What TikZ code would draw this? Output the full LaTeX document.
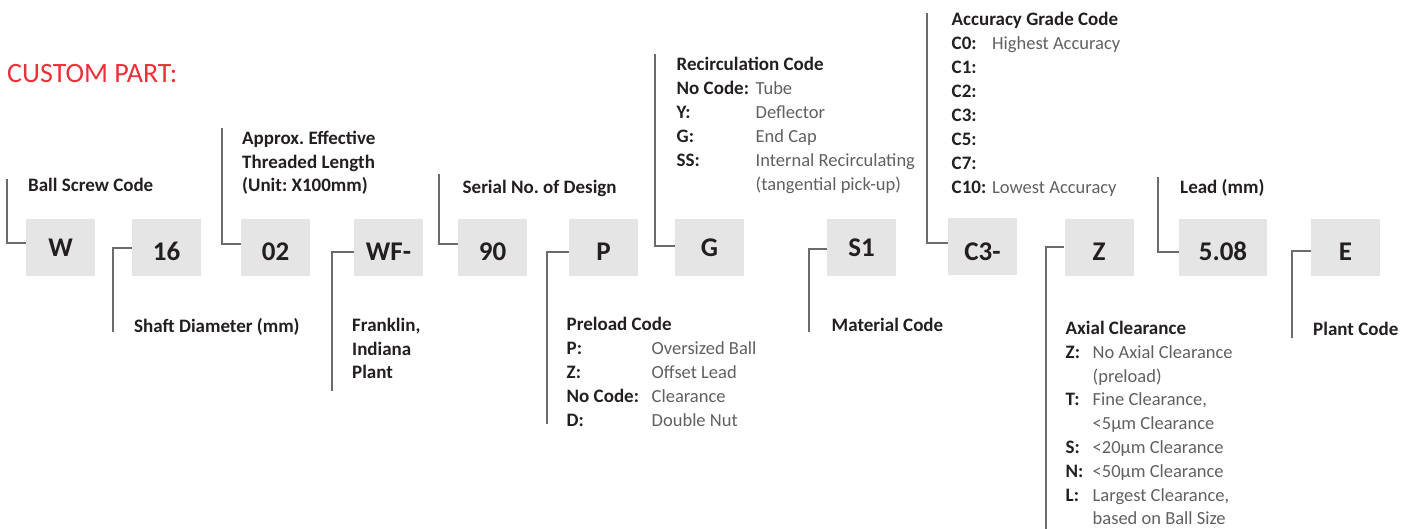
\documentclass[tikz,border=0pt]{standalone}
\usepackage{fontspec}
\setmainfont{Carlito}
\frenchspacing
\definecolor{boxgray}{HTML}{E5E5E5}
\definecolor{linegray}{HTML}{6B6B6B}
\definecolor{darktext}{HTML}{231F20}
\definecolor{lighttext}{HTML}{606060}
\definecolor{titlered}{HTML}{E8323A}
\tikzset{
  codebox/.style={fill=boxgray, minimum width=69pt, minimum height=57pt, inner sep=0pt, text height=26pt, text depth=0pt, text=darktext, font=\fontsize{27}{27}\selectfont\bfseries},
  highcode/.style={text height=18pt},
  lbl/.style={anchor=base west, inner sep=0pt, text=darktext, font=\fontsize{19}{24}\selectfont\bfseries},
  val/.style={anchor=base west, inner sep=0pt, text=lighttext, font=\fontsize{18.5}{24}\selectfont},
  conn/.style={draw=linegray, line width=2pt},
}
\begin{document}
\begin{tikzpicture}[x=1pt,y=-1pt]
\useasboundingbox (0,0) rectangle (1418,529);

\node[anchor=base west, inner sep=0pt, text=titlered, font=\fontsize{28}{28}\selectfont] (title) at (7,83) {CUSTOM PART:};

% code boxes
\node[codebox, highcode] (bW) at (60.5,247.5) {W};
\node[codebox] (b16) at (166.5,247.5) {16};
\node[codebox] (b02) at (275.5,247.5) {02};
\node[codebox] (bWF) at (388.5,247.5) {WF-};
\node[codebox] (b90) at (492.5,247.5) {90};
\node[codebox] (bP) at (603.5,247.5) {P};
\node[codebox, highcode] (bG) at (709.5,247.5) {G};
\node[codebox, highcode] (bS) at (861.5,247.5) {S1};
\node[codebox, text height=27.5pt] (bC) at (982.5,246.3) {C3-};
\node[codebox] (bZ) at (1099,247.5) {Z};
\node[codebox, minimum width=88pt] (bL) at (1223,247.5) {5.08};
\node[codebox] (bE) at (1345.5,247.5) {E};

% labels
\node[lbl] (lW) at (28,191.5) {Ball Screw Code};
\node[lbl] (l16) at (134,332) {Shaft Diameter (mm)};
\node[lbl] (l02a) at (242,145) {Approx. Effective};
\node[lbl] (l02b) at (242,168.5) {Threaded Length};
\node[lbl] (l02c) at (242,192) {(Unit: X100mm)};
\node[lbl] (lWFa) at (352,331.5) {Franklin,};
\node[lbl] (lWFb) at (352,355) {Indiana};
\node[lbl] (lWFc) at (352,378.5) {Plant};
\node[lbl] (l90) at (462.5,194) {Serial No. of Design};

\node[lbl] (lP) at (566.5,330) {Preload Code};
\node[lbl] (kP1) at (566.5,354) {P:};
\node[val] (vP1) at (651.5,354) {Oversized Ball};
\node[lbl] (kP2) at (566.5,378) {Z:};
\node[val] (vP2) at (651.5,378) {Offset Lead};
\node[lbl] (kP3) at (566.5,402) {No Code:};
\node[val] (vP3) at (651.5,402) {Clearance};
\node[lbl] (kP4) at (566.5,426) {D:};
\node[val] (vP4) at (651.5,426) {Double Nut};

\node[lbl] (lG) at (676.5,70.5) {Recirculation Code};
\node[lbl] (kG1) at (676.5,95) {No Code:};
\node[val] (vG1) at (755.5,95) {Tube};
\node[lbl] (kG2) at (676.5,119) {Y:};
\node[val] (vG2) at (755.5,119) {Deflector};
\node[lbl] (kG3) at (676.5,143) {G:};
\node[val] (vG3) at (755.5,143) {End Cap};
\node[lbl] (kG4) at (676.5,167) {SS:};
\node[val] (vG4) at (755.5,167) {Internal Recirculating};
\node[val] (vG5) at (755.5,191) {(tangential pick-up)};

\node[lbl] (lS) at (831.5,331) {Material Code};

\node[lbl] (lC) at (951.5,26) {Accuracy Grade Code};
\node[lbl] (kC1) at (951.5,50) {C0:};
\node[val] (vC1) at (992,50) {Highest Accuracy};
\node[lbl] (kC2) at (951.5,74) {C1:};
\node[lbl] (kC3) at (951.5,98) {C2:};
\node[lbl] (kC4) at (951.5,122) {C3:};
\node[lbl] (kC5) at (951.5,146) {C5:};
\node[lbl] (kC6) at (951.5,170) {C7:};
\node[lbl] (kC7) at (951.5,194) {C10:};
\node[val] (vC7) at (992,194) {Lowest Accuracy};

\node[lbl] (lZ) at (1065.5,334.5) {Axial Clearance};
\node[lbl] (kZ1) at (1065.5,358.3) {Z:};
\node[val] (vZ1) at (1092.5,358.3) {No Axial Clearance};
\node[val] (vZ2) at (1092.5,382.1) {(preload)};
\node[lbl] (kZ3) at (1065.5,405.9) {T:};
\node[val] (vZ3) at (1092.5,405.9) {Fine Clearance,};
\node[val] (vZ4) at (1092.5,429.7) {<5µm Clearance};
\node[lbl] (kZ5) at (1065.5,453.5) {S:};
\node[val] (vZ5) at (1092.5,453.5) {<20µm Clearance};
\node[lbl] (kZ6) at (1065.5,477.3) {N:};
\node[val] (vZ6) at (1092.5,477.3) {<50µm Clearance};
\node[lbl] (kZ7) at (1065.5,501.1) {L:};
\node[val] (vZ7) at (1092.5,501.1) {Largest Clearance,};
\node[val] (vZ8) at (1092.5,524.9) {based on Ball Size};

\node[lbl] (lL) at (1180,193.3) {Lead (mm)};
\node[lbl] (lE) at (1313,335) {Plant Code};

% connector free ends
\coordinate (cW) at (7,179);
\coordinate (c16) at (113,332);
\coordinate (c02) at (222,128);
\coordinate (cWF) at (332,391);
\coordinate (c90) at (439,174);
\coordinate (cP) at (547,424);
\coordinate (cG) at (655,54);
\coordinate (cS) at (809,332);
\coordinate (cC) at (927,13);
\coordinate (cZ) at (1046,529);
\coordinate (cL) at (1158,177);
\coordinate (cE) at (1292,338);

% connectors
\draw[conn] (cW) |- ([yshift=4pt]bW.west);
\draw[conn] (c16) |- ([yshift=-0.8pt]b16.west);
\draw[conn] (c02) |- ([yshift=3.2pt]b02.west);
\draw[conn] (cWF) |- ([yshift=-4.8pt]bWF.west);
\draw[conn] (c90) |- ([yshift=3.2pt]b90.west);
\draw[conn] (cP) |- ([yshift=-4.8pt]bP.west);
\draw[conn] (cG) |- ([yshift=1.5pt]bG.west);
\draw[conn] (cS) |- ([yshift=-1.5pt]bS.west);
\draw[conn] (cC) |- ([yshift=3pt]bC.west);
\draw[conn] (cZ) |- ([yshift=0.2pt]bZ.west);
\draw[conn] (cL) |- ([yshift=-4.2pt]bL.west);
\draw[conn] (cE) |- ([yshift=-3.5pt]bE.west);
\end{tikzpicture}
\end{document}
